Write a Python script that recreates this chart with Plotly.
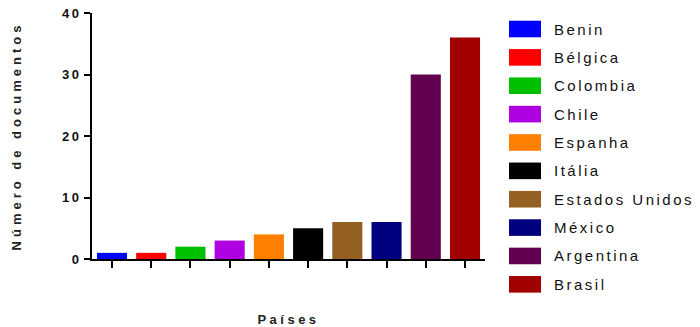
import plotly.graph_objects as go

countries = ["Benin", "Bélgica", "Colombia", "Chile", "Espanha", "Itália",
             "Estados Unidos", "México", "Argentina", "Brasil"]
documents = [1, 1, 2, 3, 4, 5, 6, 6, 30, 36]
colors = ["#0000FF", "#FF0000", "#00BF00", "#AE00E0", "#FF8000", "#000000",
          "#936021", "#000080", "#62004F", "#A00000"]
y_ticks = [0, 10, 20, 30, 40]
x_title = "Países"
y_title = "Número de documentos"

FONT = "Liberation Sans, Arial, sans-serif"

fig = go.Figure()
fig.add_trace(go.Bar(
    x=countries, y=documents,
    marker=dict(color=colors, line=dict(width=0)),
    showlegend=False,
))

# Legend drawn as boxes + text at the right of the plot
L, R, T, B = 92, 215, 13, 68
W, H = 700, 327
pw, ph = W - L - R, H - T - B
def px_to_paper_x(px):
    return (px - L) / pw
def px_to_paper_y(py):
    return (H - B - py) / ph

row0, drow = 29.0, 28.37
shapes = []
annotations = []
for i, (name, col) in enumerate(zip(countries, colors)):
    cy = row0 + drow * i
    shapes.append(dict(type="rect", xref="paper", yref="paper",
                       x0=px_to_paper_x(509), x1=px_to_paper_x(541),
                       y0=px_to_paper_y(cy + 8.3), y1=px_to_paper_y(cy - 8.3),
                       fillcolor=col, line=dict(width=0)))
    annotations.append(dict(xref="paper", yref="paper",
                            x=px_to_paper_x(552), y=px_to_paper_y(cy),
                            xanchor="left", yanchor="middle", align="left", showarrow=False,
                            text=name, font=dict(family=FONT, size=15, color="#111111")))

fig.update_layout(
    width=W, height=H,
    margin=dict(l=L, r=R, t=T, b=B, autoexpand=False),
    paper_bgcolor="white", plot_bgcolor="white",
    bargap=0.233,
    shapes=shapes, annotations=annotations,
    font=dict(family=FONT, color="#111111"),
)
fig.update_xaxes(
    range=[-0.51, len(countries) - 0.49], automargin=False,
    showticklabels=False, ticks="outside", ticklen=7, tickwidth=2, tickcolor="black",
    showline=True, linewidth=2, linecolor="black", showgrid=False, zeroline=False,
    title=dict(text=x_title, font=dict(family=FONT, size=13, weight="bold", color="#222222"), standoff=48),
)
fig.update_yaxes(
    range=[0, 40], tickvals=y_ticks, ticktext=[str(v) for v in y_ticks], automargin=False,
    ticks="outside", ticklen=6, tickwidth=2, tickcolor="black",
    tickfont=dict(family=FONT, size=13, weight="bold", color="#111111"),
    showline=True, linewidth=2, linecolor="black", showgrid=False, zeroline=False,
    title=dict(text=y_title, font=dict(family=FONT, size=13, weight="bold", color="#222222"), standoff=42),
)

post = """
document.body.style.margin='0';
var gd = document.getElementById('{plot_id}');
function sp(sel, v){ gd.querySelectorAll(sel).forEach(function(t){ t.style.letterSpacing = v; }); }
sp('.ytick text', '2.5px');
sp('.g-ytitle text', '4px');
sp('.g-xtitle text', '3.5px');
sp('.annotation-text', '2.5px');
"""

fig.write_html("out.html", post_script=post, config={"displayModeBar": False})
